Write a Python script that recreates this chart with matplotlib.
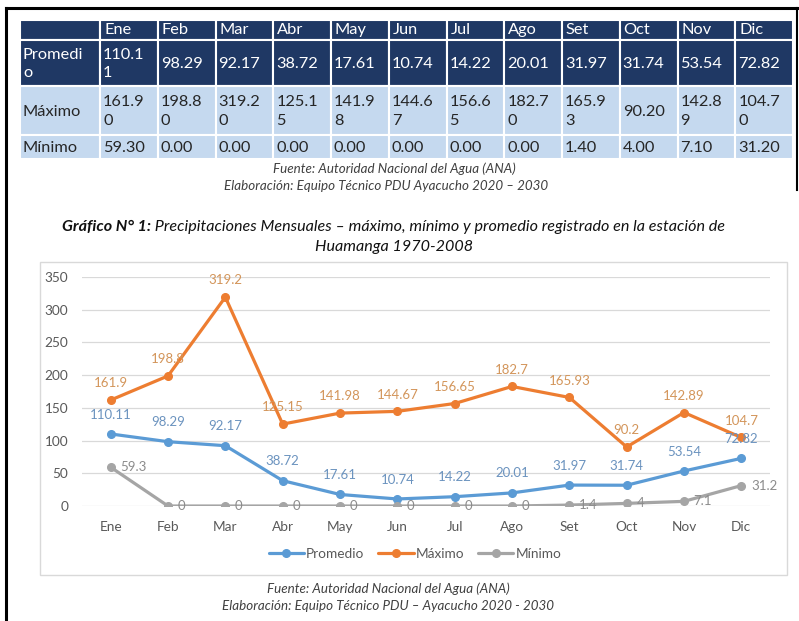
import matplotlib
matplotlib.use("Agg")
import matplotlib.pyplot as plt
from matplotlib.patches import Rectangle

plt.rcParams['font.family'] = ['Lato', 'DejaVu Sans']

# ---- data -------------------------------------------------------------
months = ["Ene", "Feb", "Mar", "Abr", "May", "Jun",
          "Jul", "Ago", "Set", "Oct", "Nov", "Dic"]
promedio = [110.11, 98.29, 92.17, 38.72, 17.61, 10.74,
            14.22, 20.01, 31.97, 31.74, 53.54, 72.82]
maximo = [161.90, 198.80, 319.20, 125.15, 141.98, 144.67,
          156.65, 182.70, 165.93, 90.20, 142.89, 104.70]
minimo = [59.30, 0.00, 0.00, 0.00, 0.00, 0.00,
          0.00, 0.00, 1.40, 4.00, 7.10, 31.20]
row_names = ["Promedio", "Máximo", "Mínimo"]
y_ticks = [0, 50, 100, 150, 200, 250, 300, 350]

series = [("Promedio", promedio, "#5B9BD5", "#6B93BF"),
          ("Máximo", maximo, "#ED7D31", "#D3955A"),
          ("Mínimo", minimo, "#A5A5A5", "#8C8C8C")]

W, H = 799, 621
NAVY = "#1F3864"
LIGHT = "#C5D9EF"

fig = plt.figure(figsize=(W / 100, H / 100), dpi=100)
fig.patch.set_facecolor("white")

# page layer in pixel coordinates
page = fig.add_axes([0, 0, 1, 1], zorder=0)
page.set_xlim(0, W)
page.set_ylim(H, 0)
page.axis("off")

# scan frame
page.plot([6, 6], [8, H], color="black", lw=2.2)
page.plot([6, 797], [8, 8], color="black", lw=2.2)
page.plot([797, 797], [8, 190], color="black", lw=1.5)


def wrap(s, n):
    return s if len(s) <= n else s[:n] + "\n" + s[n:]


# ---- table ------------------------------------------------------------
x0, x1 = 20, 100
col_w = (793 - x1) / len(months)
row_edges = [20, 40, 86, 135, 159]
rows = [[""] + months,
        [row_names[0]] + [f"{v:.2f}" for v in promedio],
        [row_names[1]] + [f"{v:.2f}" for v in maximo],
        [row_names[2]] + [f"{v:.2f}" for v in minimo]]
for r, cells in enumerate(rows):
    top, bot = row_edges[r], row_edges[r + 1]
    fc = NAVY if r < 2 else LIGHT
    tc = "white" if r < 2 else "#262626"
    for c, txt in enumerate(cells):
        left = x0 if c == 0 else x1 + (c - 1) * col_w
        width = (x1 - x0) if c == 0 else col_w
        page.add_patch(Rectangle((left, top), width, bot - top,
                                 facecolor=fc, edgecolor="white", lw=1.5))
        if r == 0:
            page.text(left + 4, top + 10, txt, color=tc, fontsize=11.8,
                      va="center", ha="left")
        else:
            page.text(left + 3, (top + bot) / 2 + 1,
                      wrap(txt, 7 if c == 0 else 5), color=tc,
                      fontsize=11.8, va="center", ha="left", linespacing=1.4)

src_kw = dict(fontsize=9.6, style="italic", color="#404040", ha="center",
              va="center")
page.text(394, 169, "Fuente: Autoridad Nacional del Agua (ANA)", **src_kw)
page.text(386, 186, "Elaboración: Equipo Técnico PDU Ayacucho 2020 – 2030",
          **src_kw)

# ---- chart title ----------------------------------------------------------
t1 = page.text(62, 227, "Gráfico N° 1:", fontsize=11.6, style="italic",
               weight="bold", va="center", ha="left", color="#111111")
page.annotate(" Precipitaciones Mensuales – máximo, mínimo y promedio "
              "registrado en la estación de",
              xy=(1, 0), xycoords=t1, va="bottom", ha="left",
              fontsize=11.6, style="italic", color="#111111")
page.text(394, 247, "Huamanga 1970-2008", fontsize=11.6, style="italic",
          va="center", ha="center", color="#111111")

# chart frame
page.add_patch(Rectangle((40, 262), 747, 313, facecolor="white",
                         edgecolor="#D9D9D9", lw=1.0))

# ---- chart ----------------------------------------------------------------
ax = fig.add_axes([82 / W, 1 - 506 / H, (770 - 82) / W, (506 - 277) / H],
                  zorder=2)
ax.patch.set_alpha(0)
x = list(range(len(months)))

for name, vals, col, lcol in series:
    ax.plot(x, vals, color=col, lw=2.3, marker="o", ms=5.5, label=name,
            solid_capstyle="round", zorder=3)
    for xi, v in zip(x, vals):
        if name == "Mínimo":
            ax.annotate(f"{v:g}", (xi, v), xytext=(7, 0),
                        textcoords="offset points", ha="left", va="center",
                        fontsize=9.5, color=lcol, zorder=4)
        else:
            dy = 14 if name == "Promedio" else 12
            ax.annotate(f"{v:g}", (xi, v), xytext=(0, dy),
                        textcoords="offset points", ha="center", va="center",
                        fontsize=9.5, color=lcol, zorder=4)

ax.set_xlim(-0.5, len(months) - 0.5)
ax.set_ylim(0, 350)
ax.set_yticks(y_ticks)
ax.set_xticks(x)
ax.set_xticklabels(months)
ax.grid(axis="y", color="#D9D9D9", lw=0.9)
ax.set_axisbelow(True)
for s in ax.spines.values():
    s.set_visible(False)
ax.tick_params(length=0, labelsize=9.8, labelcolor="#595959")
ax.tick_params(axis="y", pad=10)
ax.tick_params(axis="x", pad=11)

ax.legend(loc="center", bbox_to_anchor=(415 / W, 1 - 554 / H),
          bbox_transform=fig.transFigure, ncol=3, frameon=False,
          fontsize=9.8, labelcolor="#595959", handlelength=2.6,
          handletextpad=0.15, columnspacing=1.0)

# ---- bottom source ---------------------------------------------------------
page.text(388, 589, "Fuente: Autoridad Nacional del Agua (ANA)", **src_kw)
page.text(388, 606, "Elaboración: Equipo Técnico PDU – Ayacucho 2020 - 2030",
          **src_kw)

fig.savefig("out.png", dpi=100)
